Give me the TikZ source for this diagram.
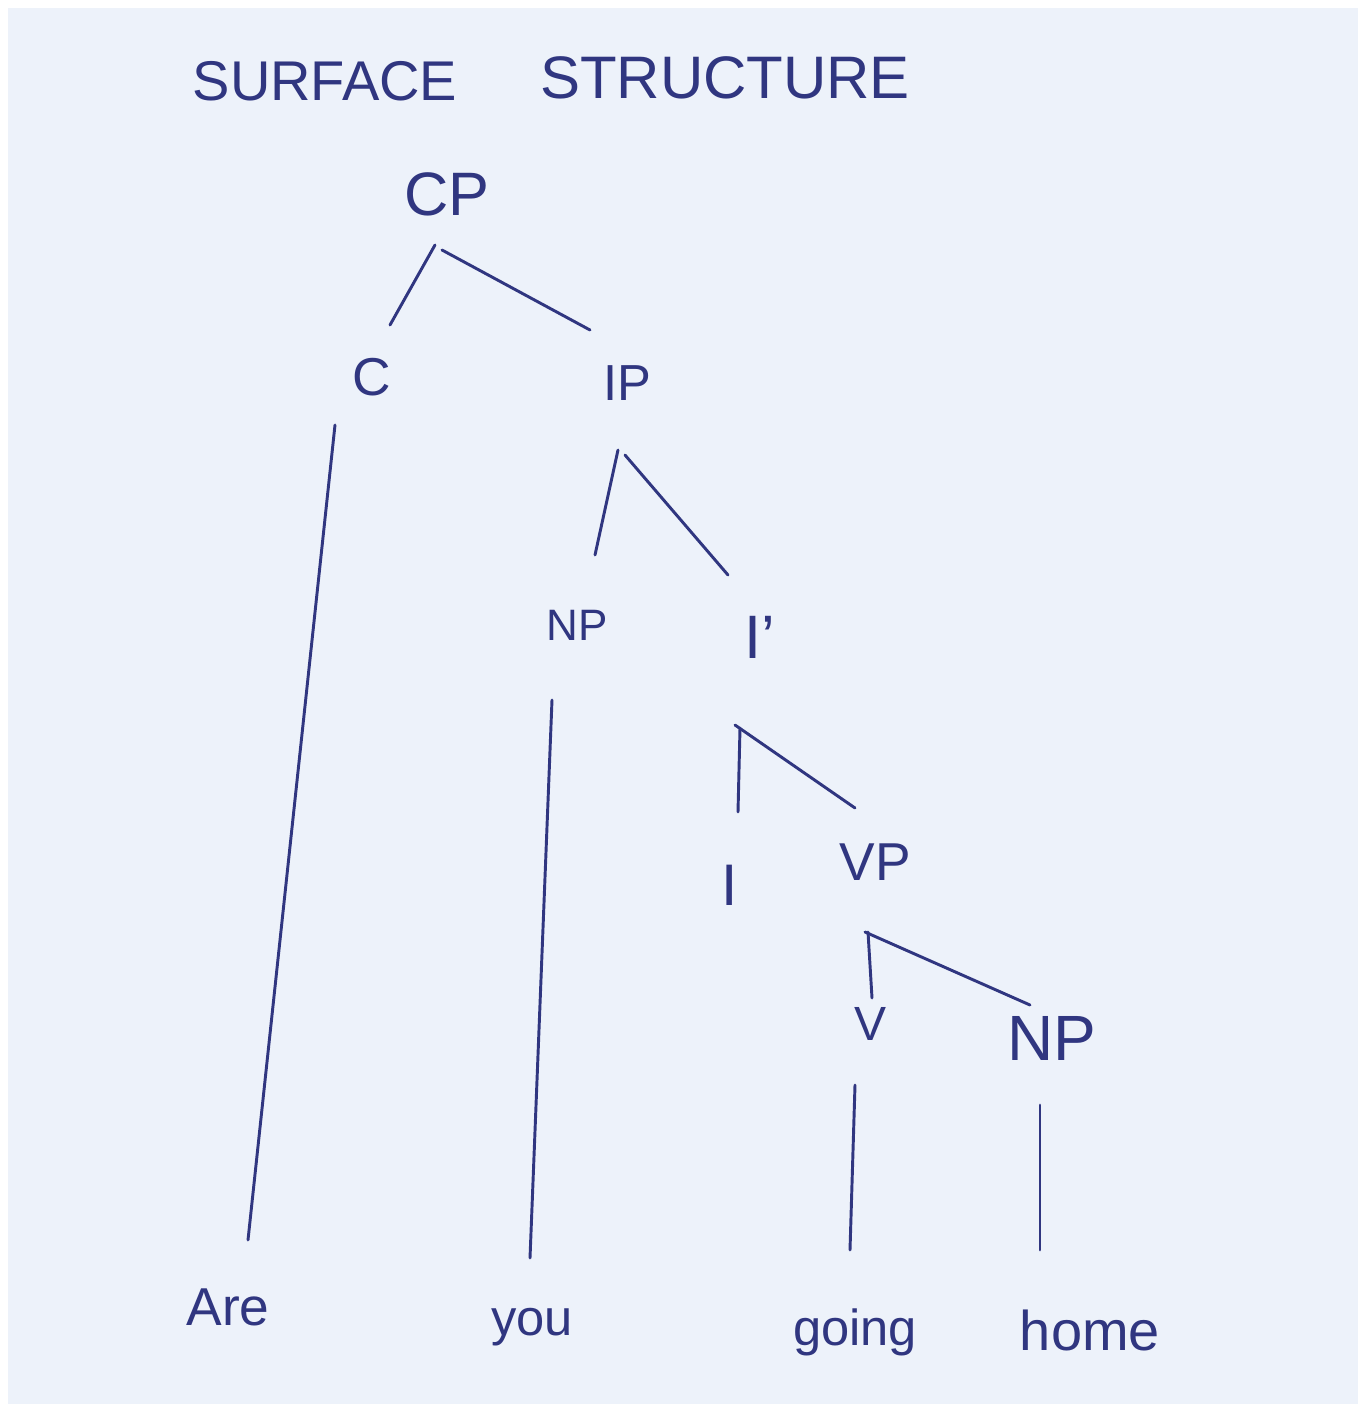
\documentclass[tikz,border=0pt]{standalone}
\usepackage{fontspec}
\setmainfont{Liberation Sans}
\definecolor{paper}{RGB}{237,242,250}
\definecolor{ink}{RGB}{48,54,128}
\begin{document}
\begin{tikzpicture}[x=0.75pt,y=-0.75pt,
  lbl/.style={anchor=base,inner sep=0pt,text=ink},
  branch/.style={draw=ink,line width=2.2pt,line cap=round}]
\fill[white] (0,0) rectangle (1364,1410);
\fill[paper] (8,8) rectangle (1358,1404);
\useasboundingbox (0,0) rectangle (1364,1410);
% title
\node[lbl,font=\fontsize{42pt}{42pt}\selectfont] (t1) at (325,100) {SURFACE};
\node[lbl,font=\fontsize{45pt}{45pt}\selectfont] (t2) at (725,98) {STRUCTURE};
% tree labels
\node[lbl,font=\fontsize{46pt}{46pt}\selectfont] (CP) at (447,215) {CP};
\node[lbl,font=\fontsize{40pt}{40pt}\selectfont] (C) at (372,395) {C};
\node[lbl,font=\fontsize{38pt}{38pt}\selectfont] (IP) at (627,400) {IP};
\node[lbl,font=\fontsize{33pt}{33pt}\selectfont] (NP1) at (577,640) {NP};
\node[lbl,font=\fontsize{46pt}{46pt}\selectfont] (Ibar) at (760,658) {I'};
\node[lbl,font=\fontsize{44pt}{44pt}\selectfont] (I) at (730,905) {I};
\node[lbl,font=\fontsize{40pt}{40pt}\selectfont] (VP) at (875,880) {VP};
\node[lbl,font=\fontsize{36pt}{36pt}\selectfont] (V) at (870,1040) {V};
\node[lbl,font=\fontsize{48pt}{48pt}\selectfont] (NP2) at (1052,1060) {NP};
% words
\node[lbl,font=\fontsize{40pt}{40pt}\selectfont] (are) at (228,1325) {Are};
\node[lbl,font=\fontsize{38pt}{38pt}\selectfont] (you) at (532,1335) {you};
\node[lbl,font=\fontsize{38pt}{38pt}\selectfont] (going) at (855,1345) {going};
\node[lbl,font=\fontsize{42pt}{42pt}\selectfont] (home) at (1090,1350) {home};
% branches
\draw[branch] ([shift={(-12,30)}]CP.base) -- ([shift={(18,-70)}]C.base);
\draw[branch] ([shift={(-5,35)}]CP.base) -- ([shift={(-37,-70)}]IP.base);
\draw[branch] ([shift={(-37,30)}]C.base) -- ([shift={(20,-85)}]are.base);
\draw[branch] ([shift={(-9,50)}]IP.base) -- ([shift={(18,-85)}]NP1.base);
\draw[branch] ([shift={(-2,55)}]IP.base) -- ([shift={(-32,-83)}]Ibar.base);
\draw[branch] ([shift={(-25,60)}]NP1.base) -- ([shift={(-2,-77)}]you.base);
\draw[branch] ([shift={(-20,70)}]Ibar.base) -- ([shift={(8,-93)}]I.base);
\draw[branch] ([shift={(-25,67)}]Ibar.base) -- ([shift={(-20,-72)}]VP.base);
\draw[branch] ([shift={(-7,52)}]VP.base) -- ([shift={(2,-42)}]V.base);
\draw[branch] ([shift={(-10,52)}]VP.base) -- ([shift={(-22,-55)}]NP2.base);
\draw[branch] ([shift={(-15,45)}]V.base) -- ([shift={(-5,-95)}]going.base);
\draw[branch] ([shift={(-12,45)}]NP2.base) -- ([shift={(-50,-100)}]home.base);
\end{tikzpicture}
\end{document}
